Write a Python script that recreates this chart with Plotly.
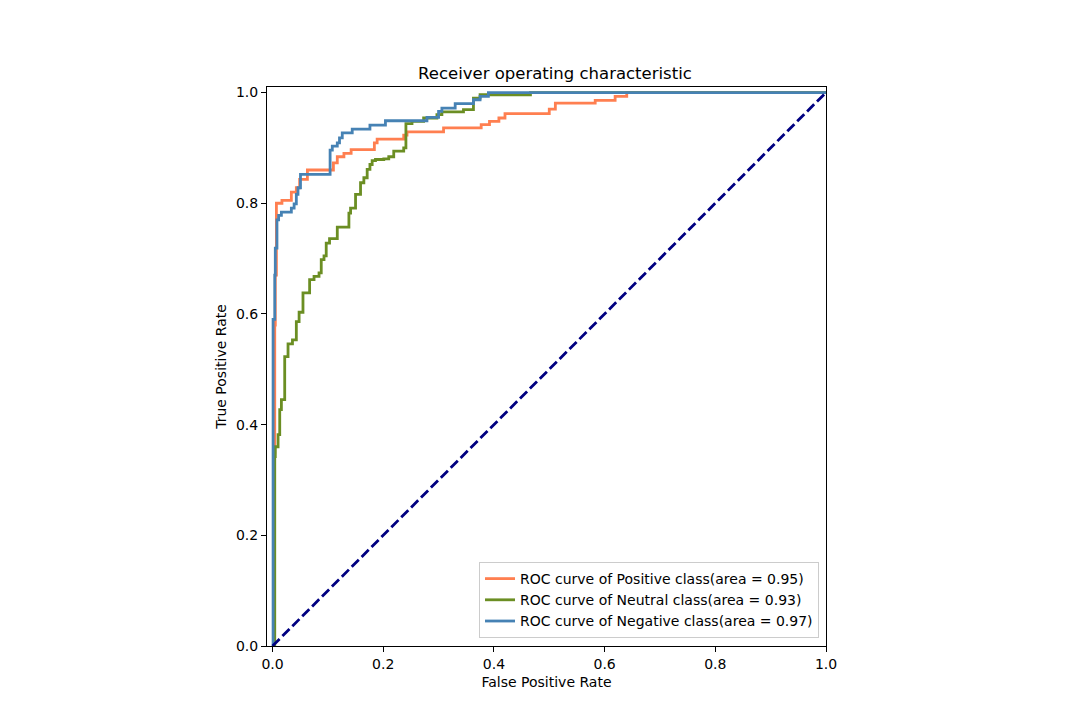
import plotly.graph_objects as go

# ROC points (x = where the curve steps up, y = new TPR)
fpr_pos = [0, 0.002, 0.004, 0.005, 0.007, 0.017, 0.034, 0.043, 0.049, 0.063,
           0.110, 0.117, 0.129, 0.142, 0.184, 0.189, 0.237, 0.243, 0.309, 0.377,
           0.392, 0.409, 0.420, 0.500, 0.511, 0.583, 0.619, 0.640, 1.0]
tpr_pos = [0, 0.35, 0.58, 0.67, 0.80, 0.805, 0.82, 0.828, 0.843, 0.86,
           0.873, 0.884, 0.890, 0.897, 0.909, 0.916, 0.923, 0.929, 0.936, 0.942,
           0.948, 0.954, 0.962, 0.970, 0.981, 0.986, 0.993, 1.0, 1.0]

fpr_neu = [0, 0.004, 0.005, 0.010, 0.013, 0.016, 0.022, 0.028, 0.036, 0.043,
           0.048, 0.055, 0.067, 0.075, 0.084, 0.088, 0.093, 0.097, 0.103, 0.117,
           0.138, 0.141, 0.150, 0.159, 0.165, 0.171, 0.176, 0.180, 0.186, 0.201,
           0.210, 0.219, 0.237, 0.241, 0.252, 0.273, 0.297, 0.306, 0.345, 0.363,
           0.375, 0.466, 1.0]
tpr_neu = [0, 0.342, 0.360, 0.382, 0.427, 0.445, 0.523, 0.546, 0.553, 0.586,
           0.603, 0.638, 0.662, 0.668, 0.674, 0.698, 0.705, 0.728, 0.736, 0.757,
           0.782, 0.791, 0.816, 0.837, 0.846, 0.861, 0.870, 0.877, 0.879, 0.880,
           0.884, 0.894, 0.900, 0.944, 0.948, 0.954, 0.960, 0.965, 0.969, 0.990,
           0.996, 1.0, 1.0]

fpr_neg = [0, 0.001, 0.004, 0.005, 0.008, 0.011, 0.016, 0.034, 0.039, 0.043,
           0.046, 0.0505, 0.104, 0.108, 0.117, 0.121, 0.126, 0.144, 0.176, 0.204,
           0.279, 0.300, 0.306, 0.330, 0.363, 0.375, 0.390, 1.0]
tpr_neg = [0, 0.59, 0.67, 0.719, 0.770, 0.778, 0.784, 0.791, 0.799, 0.816,
           0.828, 0.852, 0.896, 0.903, 0.909, 0.918, 0.927, 0.934, 0.941, 0.949,
           0.955, 0.966, 0.972, 0.980, 0.987, 0.993, 1.0, 1.0]

classes = ["Positive", "Neutral", "Negative"]
areas = [0.95, 0.93, 0.97]
colors = ["coral", "olivedrab", "steelblue"]
curves = [(fpr_pos, tpr_pos), (fpr_neu, tpr_neu), (fpr_neg, tpr_neg)]

fig = go.Figure()
for (fpr, tpr), name, area, color in zip(curves, classes, areas, colors):
    fig.add_trace(go.Scatter(
        x=fpr, y=tpr, mode="lines", line_shape="hv",
        line=dict(color=color, width=2.8),
        name=f"ROC curve of {name} class(area = {area:.2f})",
    ))

fig.add_trace(go.Scatter(
    x=[0, 1], y=[0, 1], mode="lines",
    line=dict(color="navy", width=2.8, dash="10px,4px"),
    showlegend=False,
))

axis_style = dict(
    showline=True, linecolor="black", linewidth=1, mirror=True,
    ticks="outside", ticklen=5, tickcolor="black", showgrid=False,
    zeroline=False, tickformat=".1f", dtick=0.2,
    tickfont=dict(size=14, color="black"),
)

fig.update_layout(
    width=1067, height=726,
    # the page body adds 8px, so margins are shifted to land the axes where the reference has them
    margin=dict(l=259, r=249, t=79, b=88),
    paper_bgcolor="white", plot_bgcolor="white",
    font=dict(family="DejaVu Sans", size=14, color="black"),
    title=dict(text="Receiver operating characteristic", x=0.5126, xanchor="center",
               yref="container", y=0.91, yanchor="middle", font=dict(size=16.5)),
    xaxis=dict(range=[-0.01, 1.0],
               title=dict(text="False Positive Rate", standoff=6, font=dict(size=14)), **axis_style),
    yaxis=dict(range=[0, 1.01],
               title=dict(text="True Positive Rate", standoff=6, font=dict(size=14)), **axis_style),
    legend=dict(x=0.9875, y=0.0143, xanchor="right", yanchor="bottom",
                bgcolor="rgba(255,255,255,0.8)", bordercolor="#cccccc", borderwidth=1,
                font=dict(size=14), itemwidth=30, tracegroupgap=0),
    showlegend=True,
)

fig.write_html("out.html")
